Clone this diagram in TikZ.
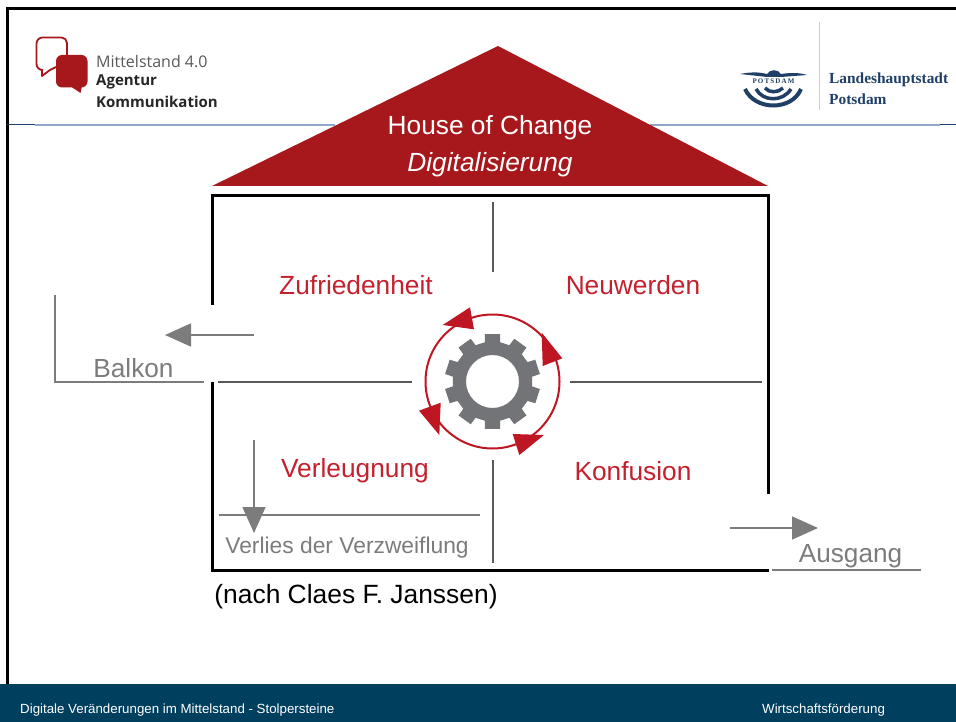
\documentclass[tikz,border=0pt]{standalone}
\usepackage{fontspec}
\setmainfont{Liberation Sans}
\newfontfamily\logofont{Open Sans}
\newfontfamily\potsfont{Liberation Serif}
\usetikzlibrary{arrows.meta}
\definecolor{roofred}{HTML}{A6181C}
\definecolor{labelred}{HTML}{C4202E}
\definecolor{ringred}{HTML}{BE1622}
\definecolor{lgrey}{HTML}{7C7C7C}
\definecolor{gearg}{HTML}{737477}
\definecolor{footer}{HTML}{003F5E}
\definecolor{navy}{HTML}{1F3F66}
\definecolor{rule}{HTML}{8FAAC8}
\tikzset{
 wall/.style={line width=3pt,black},
 thinline/.style={line width=1.5pt,lgrey},
 midline/.style={line width=1.3pt,black!65},
 greyarrow/.style={line width=1.5pt,lgrey,-{Triangle[length=26pt,width=23pt,fill=lgrey]}},
 stage/.style={font=\fontsize{26.3}{26.3}\selectfont,labelred,inner sep=0pt},
 room/.style={font=\fontsize{26.2}{26.2}\selectfont,lgrey,inner sep=0pt},
 foottext/.style={font=\fontsize{13.3}{13.3}\selectfont,white,inner sep=0pt,anchor=west},
 logotext/.style={font=\logofont\fontsize{16}{16}\selectfont,inner sep=0pt,anchor=west},
 logobold/.style={font=\logofont\bfseries\fontsize{15}{15}\selectfont,inner sep=0pt,anchor=west},
 potstext/.style={font=\potsfont\bfseries\fontsize{15.4}{15.4}\selectfont,navy,inner sep=0pt,anchor=west},
 ringhead/.style={fill=ringred,draw=none},
}
\begin{document}
\begin{tikzpicture}[x=1pt,y=-1pt]
\useasboundingbox (0,0) rectangle (956,722);
\fill[white] (0,0) rectangle (956,722);
% slide frame and footer
\fill[footer] (0,684) rectangle (956,722);
\draw[line width=3pt,black] (7.5,684) -- (7.5,8.5) -- (956,8.5);
\node[foottext] (foot1) at (20,710) {Digitale Veränderungen im Mittelstand - Stolpersteine};
\node[foottext] (foot2) at (762,710) {Wirtschaftsförderung};
% header rule
\draw[line width=1pt,navy] (7,125) -- (35,125);
\draw[line width=1.2pt,rule] (35,125) -- (335,125);
\draw[line width=1.2pt,rule] (650,125) -- (940,125);
\draw[line width=1pt,navy] (940,125) -- (956,125);
% left logo
\draw[line width=1.8pt,roofred,line join=round] (67,56) -- (67,43) arc (0:-90:5.5) -- (42.5,37.5) arc (-90:-180:6) -- (36.5,64) arc (180:90:6) -- (42,70) -- (42,76) -- (50,70) -- (56,67);
\fill[roofred,rounded corners=6pt] (56,55) rectangle (87.5,87.5);
\fill[roofred] (70,86) -- (80.5,93) -- (82,86) -- cycle;
\node[logotext,black!65] (lg1) at (96,62) {Mittelstand 4.0};
\node[logobold,black!85] (lg2) at (96,81.5) {Agentur};
\node[logobold,black!85] (lg3) at (96,101.5) {Kommunikation};
% right logo
\draw[line width=1pt,black!20] (819,22) -- (819,110);
\fill[navy] (740,74) .. controls (755,71) and (762,73) .. (767,74) .. controls (770,69) and (778,69) .. (781,74) .. controls (788,73) and (798,72) .. (807,75) -- (781,77) -- (767,77) -- cycle;
\node[font=\potsfont\bfseries\fontsize{7}{7}\selectfont,navy,inner sep=0pt] (pm) at (773.5,81.5) {P\,O\,T\,S\,D\,A\,M};
\draw[navy,line width=4pt] (745,89) .. controls (755,111) and (792,111) .. (801,89);
\draw[navy,line width=3.5pt] (756,89) .. controls (763,102) and (783,102) .. (791,89);
\draw[navy,line width=3.5pt] (765,88) .. controls (769,93) and (778,93) .. (783,88);
\node[potstext] (pt1) at (829,80) {Landeshauptstadt};
\node[potstext] (pt2) at (829,99) {Potsdam};
% roof
\coordinate (apex) at (498,46);
\coordinate (roofL) at (212,186);
\coordinate (roofR) at (768,186);
\fill[roofred] (apex) -- (roofR) -- (roofL) -- cycle;
\node[font=\fontsize{26.3}{26.3}\selectfont,white,inner sep=0pt] (t1) at (490,128) {House of Change};
\node[font=\fontsize{26.3}{26.3}\selectfont\itshape,white,inner sep=0pt] (t2) at (490,164.5) {Digitalisierung};
% walls
\draw[wall] (212,305) -- (212,195.5) -- (768,195.5) -- (768,494);
\draw[wall] (212,382) -- (212,570) -- (769,570);
% inner lines
\draw[midline] (493,202) -- (493,272);
\draw[midline] (493,460) -- (493,563);
\draw[midline] (218,382) -- (412,382);
\draw[midline] (570,382) -- (762,382);
% outer rooms
\draw[thinline] (55,295) -- (55,382) -- (204,382);
\draw[thinline] (219,515) -- (480,515);
\draw[thinline] (772,570) -- (921,570);
\coordinate (a1s) at (254,335); \coordinate (a1e) at (165,335);
\coordinate (a2s) at (254,440); \coordinate (a2e) at (254,533);
\coordinate (a3s) at (730,528); \coordinate (a3e) at (818,528);
\draw[greyarrow] (a1s) -- (a1e);
\draw[greyarrow] (a2s) -- (a2e);
\draw[greyarrow] (a3s) -- (a3e);
% labels
\node[stage] (z) at (356,285) {Zufriedenheit};
\node[stage] (n) at (633,285) {Neuwerden};
\node[stage] (v) at (355,471) {Verleugnung};
\node[stage] (k) at (633,471) {Konfusion};
\node[room] (b) at (133.5,368) {Balkon};
\node[room] (au) at (850.5,556) {Ausgang};
\node[font=\fontsize{22.8}{22.8}\selectfont,lgrey,inner sep=0pt] (vv) at (347,547.5) {Verlies der Verzweiflung};
\node[font=\fontsize{26.4}{26.4}\selectfont,black,inner sep=0pt] (nach) at (356,596.5) {(nach Claes F. Janssen)};
% gear
\begin{scope}[shift={(492.5,381.5)}]
\fill[gearg,even odd rule]
 (8:40)
 \foreach \a in {18,54,...,342} {
   -- (\a-11:40) -- (\a-9:48) -- (\a+9:48) -- (\a+11:40)
 } -- cycle
 (0,0) circle (26.5);
\draw[ringred,line width=2pt] (0,0) circle (67);
\end{scope}
% ring arrowheads
\fill[ringhead] (470,307.3) -- (442.7,325) -- (474,329.3) -- cycle;
\fill[ringhead] (541.7,332.7) -- (562.3,358.3) -- (542.7,366) -- cycle;
\fill[ringhead] (544,435) -- (519.3,455) -- (512.7,434) -- cycle;
\fill[ringhead] (440.7,402.7) -- (419,410.7) -- (439.3,435) -- cycle;
\end{tikzpicture}
\end{document}
